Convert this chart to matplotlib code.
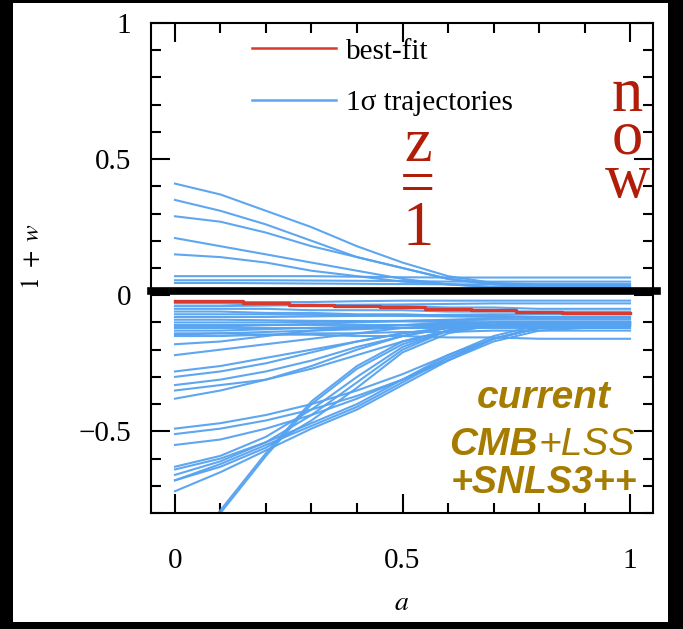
import matplotlib
matplotlib.use('Agg')
import matplotlib.pyplot as plt
from matplotlib.ticker import MultipleLocator
from matplotlib.patches import Rectangle

plt.rcParams['font.family'] = ['Liberation Serif', 'DejaVu Serif']
plt.rcParams['mathtext.fontset'] = 'stix'

# ---------------- data ----------------
a_nodes = [0.0, 0.1, 0.2, 0.3, 0.4, 0.5, 0.6, 0.7, 0.8, 0.9, 1.0]

best_fit = [-0.02, -0.02, -0.03, -0.035, -0.04, -0.045, -0.05, -0.055, -0.06, -0.065, -0.065]

traj_upper = [
    [0.41, 0.37, 0.31, 0.25, 0.18, 0.12, 0.07, 0.045, 0.04, 0.04, 0.04],
    [0.35, 0.31, 0.26, 0.20, 0.14, 0.10, 0.06, 0.04, 0.035, 0.035, 0.035],
    [0.29, 0.27, 0.23, 0.18, 0.14, 0.10, 0.06, 0.04, 0.03, 0.03, 0.03],
    [0.21, 0.18, 0.15, 0.12, 0.09, 0.06, 0.04, 0.03, 0.03, 0.03, 0.03],
    [0.15, 0.14, 0.12, 0.09, 0.07, 0.05, 0.04, 0.03, 0.03, 0.03, 0.03],
    [0.07, 0.07, 0.07, 0.07, 0.068, 0.066, 0.065, 0.065, 0.065, 0.065, 0.065],
    [0.055, 0.055, 0.055, 0.054, 0.053, 0.052, 0.05, 0.05, 0.05, 0.05, 0.05],
    [0.045, 0.045, 0.044, 0.043, 0.042, 0.041, 0.04, 0.04, 0.04, 0.04, 0.04],
    [0.02, 0.02, 0.02, 0.02, 0.02, 0.02, 0.02, 0.02, 0.02, 0.02, 0.02],
]

traj_band = [
    [-0.03, -0.03, -0.035, -0.035, -0.04, -0.04, -0.045, -0.045, -0.05, -0.05, -0.05],
    [-0.05, -0.05, -0.05, -0.055, -0.055, -0.055, -0.06, -0.06, -0.06, -0.06, -0.06],
    [-0.06, -0.06, -0.065, -0.065, -0.07, -0.07, -0.075, -0.075, -0.08, -0.08, -0.08],
    [-0.07, -0.07, -0.07, -0.072, -0.074, -0.076, -0.078, -0.08, -0.085, -0.085, -0.085],
    [-0.08, -0.08, -0.08, -0.078, -0.076, -0.074, -0.072, -0.07, -0.07, -0.07, -0.07],
    [-0.09, -0.09, -0.092, -0.094, -0.095, -0.096, -0.098, -0.10, -0.10, -0.10, -0.10],
    [-0.10, -0.10, -0.10, -0.098, -0.096, -0.094, -0.092, -0.09, -0.09, -0.09, -0.09],
    [-0.11, -0.11, -0.11, -0.11, -0.11, -0.11, -0.11, -0.11, -0.11, -0.11, -0.11],
    [-0.12, -0.12, -0.12, -0.12, -0.12, -0.12, -0.12, -0.12, -0.12, -0.12, -0.12],
    [-0.13, -0.13, -0.125, -0.12, -0.115, -0.11, -0.105, -0.10, -0.10, -0.10, -0.10],
    [-0.15, -0.15, -0.145, -0.14, -0.14, -0.135, -0.135, -0.13, -0.13, -0.13, -0.13],
    [-0.14, -0.14, -0.145, -0.145, -0.15, -0.15, -0.155, -0.155, -0.16, -0.16, -0.16],
    [-0.04, -0.04, -0.038, -0.036, -0.035, -0.034, -0.032, -0.03, -0.03, -0.03, -0.03],
    [-0.025, -0.025, -0.025, -0.025, -0.022, -0.02, -0.02, -0.02, -0.02, -0.02, -0.02],
    [-0.115, -0.115, -0.11, -0.105, -0.10, -0.095, -0.09, -0.085, -0.08, -0.08, -0.08],
    [-0.145, -0.14, -0.135, -0.13, -0.125, -0.12, -0.115, -0.115, -0.115, -0.115, -0.115],
]

traj_mid = [
    [-0.18, -0.17, -0.15, -0.13, -0.12, -0.11, -0.10, -0.10, -0.10, -0.10, -0.10],
    [-0.22, -0.20, -0.18, -0.16, -0.14, -0.12, -0.11, -0.10, -0.10, -0.10, -0.10],
    [-0.28, -0.26, -0.23, -0.20, -0.17, -0.14, -0.12, -0.11, -0.10, -0.10, -0.10],
    [-0.30, -0.28, -0.25, -0.21, -0.17, -0.14, -0.12, -0.11, -0.11, -0.11, -0.11],
    [-0.33, -0.31, -0.28, -0.24, -0.19, -0.15, -0.12, -0.11, -0.11, -0.11, -0.11],
    [-0.35, -0.33, -0.31, -0.27, -0.22, -0.17, -0.13, -0.11, -0.11, -0.11, -0.11],
    [-0.38, -0.35, -0.31, -0.26, -0.20, -0.15, -0.12, -0.11, -0.11, -0.11, -0.11],
]

traj_low = [
    [-0.49, -0.47, -0.44, -0.40, -0.35, -0.29, -0.22, -0.16, -0.12, -0.11, -0.11],
    [-0.51, -0.49, -0.46, -0.42, -0.37, -0.31, -0.24, -0.17, -0.13, -0.12, -0.12],
    [-0.55, -0.53, -0.49, -0.44, -0.38, -0.31, -0.23, -0.16, -0.12, -0.11, -0.11],
    [-0.63, -0.59, -0.52, -0.42, -0.30, -0.19, -0.13, -0.11, -0.10, -0.10, -0.10],
    [-0.66, -0.61, -0.54, -0.44, -0.32, -0.20, -0.13, -0.11, -0.10, -0.10, -0.10],
    [-0.68, -0.63, -0.56, -0.46, -0.34, -0.21, -0.14, -0.11, -0.10, -0.10, -0.10],
    [-0.64, -0.60, -0.54, -0.47, -0.40, -0.31, -0.22, -0.15, -0.11, -0.10, -0.10],
    [-0.68, -0.62, -0.55, -0.48, -0.41, -0.32, -0.23, -0.16, -0.12, -0.11, -0.11],
    [-0.72, -0.65, -0.57, -0.49, -0.42, -0.33, -0.24, -0.16, -0.12, -0.11, -0.11],
    [-1.01, -0.80, -0.59, -0.40, -0.27, -0.18, -0.13, -0.11, -0.10, -0.10, -0.10],
    [-1.00, -0.79, -0.58, -0.39, -0.26, -0.17, -0.13, -0.11, -0.10, -0.10, -0.10],
]

x_ticks = [0, 0.5, 1]
x_tick_labels = ['0', '0.5', '1']
y_ticks = [-0.5, 0, 0.5, 1]
y_tick_labels = ['\u22120.5', '0', '0.5', '1']

# ---------------- figure ----------------
W, H = 683, 629
fig = plt.figure(figsize=(W / 100, H / 100), dpi=100)
fig.patch.set_facecolor('black')
fig.patches.append(Rectangle((13 / W, (H - 622) / H), (668 - 13) / W, (622 - 3) / H,
                             transform=fig.transFigure, facecolor='white',
                             edgecolor='none', zorder=-5))

ax = fig.add_axes([151 / W, (H - 513) / H, (653 - 151) / W, (513 - 23) / H])
ax.set_zorder(2)
ax.set_facecolor('white')
ax.set_xlim(-0.0527, 1.0505)
ax.set_ylim(-0.80, 1.0)

blue = '#55A2F0'
red = '#D83A2E'

first = True
for group in (traj_upper, traj_band, traj_mid, traj_low):
    for tr in group:
        ax.plot(a_nodes, tr, color=blue, lw=1.5, alpha=0.95, zorder=2,
                label='1\u03c3 trajectories' if first else None)
        first = False
ax.plot(a_nodes, best_fit, color=red, lw=2.4, drawstyle='steps-mid', zorder=3,
        label='best-fit')

ax.axhline(0.014, xmin=0, xmax=1.008, color='black', lw=5.5, zorder=4, clip_on=False)

handles, labels = ax.get_legend_handles_labels()
leg = ax.legend(handles[::-1], labels[::-1], loc='upper left',
                bbox_to_anchor=(0.201, 0.969), frameon=False, fontsize=21,
                handlelength=2.9, handletextpad=0.33, labelspacing=0.85,
                borderpad=0, borderaxespad=0)
for h in leg.legend_handles:
    h.set_linewidth(1.8)

# ticks
ax.xaxis.set_major_locator(MultipleLocator(0.5))
ax.xaxis.set_minor_locator(MultipleLocator(0.1))
ax.yaxis.set_major_locator(MultipleLocator(0.5))
ax.yaxis.set_minor_locator(MultipleLocator(0.1))
ax.set_xticks(x_ticks, x_tick_labels)
ax.set_yticks(y_ticks, y_tick_labels)
ax.tick_params(which='both', direction='in', top=True, right=True, width=1.5,
               colors='black', labelsize=21)
ax.tick_params(which='major', length=14)
ax.tick_params(which='minor', length=7)
ax.tick_params(axis='x', which='major', pad=25)
ax.tick_params(axis='y', which='major', pad=14)
for s in ax.spines.values():
    s.set_linewidth(1.5)

fig.text(402 / W, 1 - 603 / H, r'$a$', fontsize=20, ha='center', va='center')
fig.text(33 / W, 1 - 256 / H, r'$1\ +\ w$', fontsize=18, ha='center', va='center',
         rotation=90)

# annotations
dred = '#B01E0A'
ax.text(0.534, 0.395, 'z\n=\n1', color=dred, fontsize=45, ha='center', va='center',
        multialignment='center', linespacing=0.64)
ax.text(0.995, 0.575, 'n\no\nw', color=dred, fontsize=45, ha='center', va='center',
        multialignment='center', linespacing=0.66)

gold = '#A67C00'
sans = ['Liberation Sans', 'DejaVu Sans']
ax.text(0.81, -0.415, 'current', color=gold, fontsize=28, family=sans,
        style='italic', weight='bold', ha='center', va='baseline')
ax.text(0.798, -0.588, 'CMB', color=gold, fontsize=28, family=sans,
        style='italic', weight='bold', ha='right', va='baseline')
ax.text(0.798, -0.588, '+LSS', color=gold, fontsize=28, family=sans,
        style='italic', ha='left', va='baseline')
ax.text(0.81, -0.728, '+SNLS3++', color=gold, fontsize=27, family=sans,
        style='italic', weight='bold', ha='center', va='baseline')

fig.savefig('out.png', dpi=100, facecolor=fig.get_facecolor())
